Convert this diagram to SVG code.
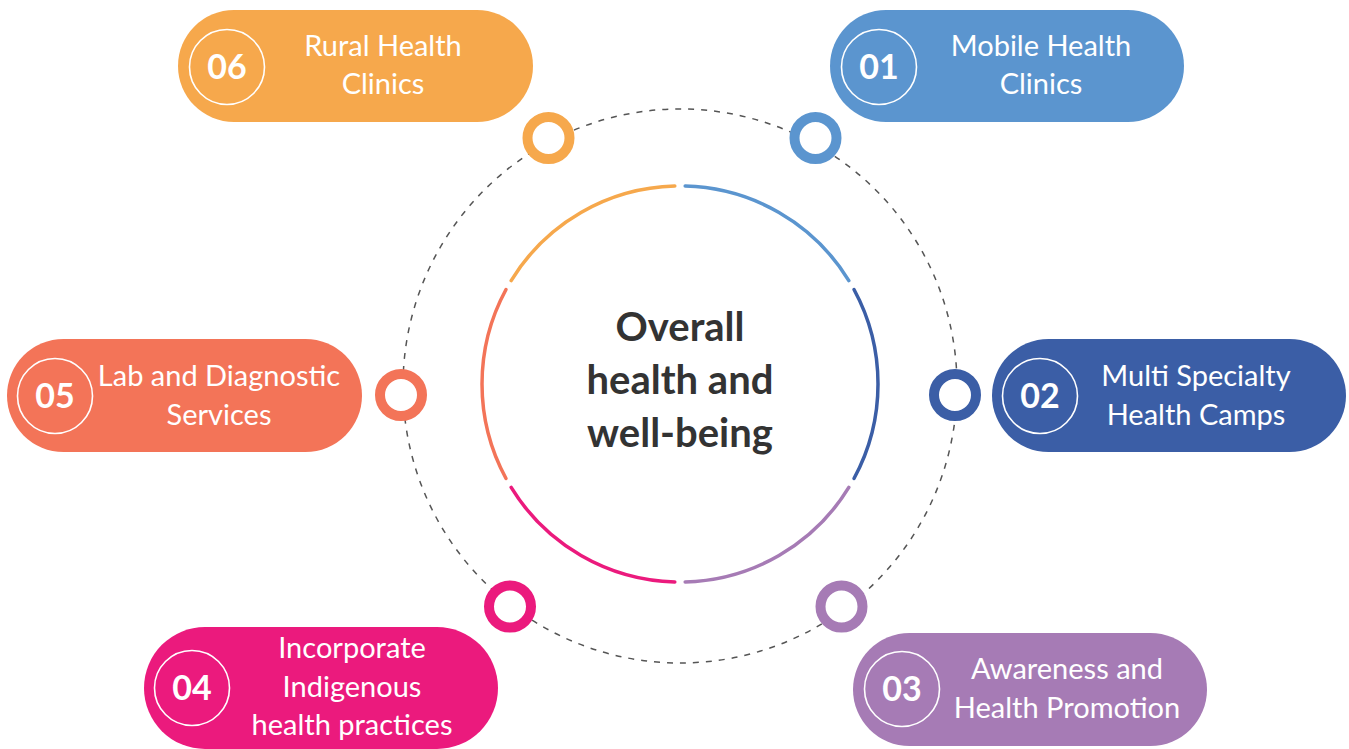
<svg xmlns="http://www.w3.org/2000/svg" width="1349" height="749" viewBox="0 0 1349 749">
<style>
.lbl{font-family:Lato,"Liberation Sans",sans-serif;font-size:29px;fill:#fff;text-anchor:middle}
.num{font-family:Lato,"Liberation Sans",sans-serif;font-size:34px;font-weight:bold;fill:#fff;text-anchor:middle}
.ncirc{fill:none;stroke:#fff;stroke-width:1.6}
.ring{fill:#fff;stroke-width:10}
.arc{fill:none;stroke-width:3.5;stroke-linecap:round}
.ctr{font-family:Lato,"Liberation Sans",sans-serif;font-size:40px;font-weight:bold;fill:#333;text-anchor:middle}
</style>
<rect width="1349" height="749" fill="#fff"/>
<g id="connectors">
<circle cx="680" cy="386" r="277" fill="none" stroke="#555" stroke-width="1.5" stroke-dasharray="6 7"/>
</g>
<g id="center">
<path class="arc" stroke="#5B95CF" d="M685.18 186.07 A198 198 0 0 1 848.82 280.54"/>
<path class="arc" stroke="#3B5EA6" d="M854.01 289.52 A198 198 0 0 1 854.01 478.48"/>
<path class="arc" stroke="#A67BB5" d="M848.82 487.46 A198 198 0 0 1 685.18 581.93"/>
<path class="arc" stroke="#EB1A7D" d="M674.82 581.93 A198 198 0 0 1 511.18 487.46"/>
<path class="arc" stroke="#F37458" d="M506.01 478.48 A198 198 0 0 1 506.01 289.52"/>
<path class="arc" stroke="#F6A84C" d="M511.18 280.54 A198 198 0 0 1 674.82 186.07"/>
<text class="ctr" x="680" y="341">Overall</text>
<text class="ctr" x="680" y="394">health and</text>
<text class="ctr" x="680" y="447">well-being</text>
</g>
<g id="node-01">
<circle class="ring" cx="815.5" cy="138" r="21" stroke="#5B95CF"/>
<rect x="830" y="10" width="354" height="112" rx="56" fill="#5B95CF"/>
<circle class="ncirc" cx="879" cy="67" r="37.5"/>
<text class="num" x="879" y="79">01</text>
<text class="lbl" x="1041" y="56">Mobile Health</text>
<text class="lbl" x="1041" y="94">Clinics</text>
</g>
<g id="node-02">
<circle class="ring" cx="955" cy="395" r="21" stroke="#3B5EA6"/>
<rect x="992" y="339" width="354" height="113" rx="56.5" fill="#3B5EA6"/>
<circle class="ncirc" cx="1040" cy="396" r="37.5"/>
<text class="num" x="1040" y="408">02</text>
<text class="lbl" x="1196" y="386">Multi Specialty</text>
<text class="lbl" x="1196" y="425">Health Camps</text>
</g>
<g id="node-03">
<circle class="ring" cx="841.5" cy="606.5" r="21" stroke="#A67BB5"/>
<rect x="853" y="633" width="354" height="113" rx="56.5" fill="#A67BB5"/>
<circle class="ncirc" cx="902" cy="689" r="37.5"/>
<text class="num" x="902" y="701">03</text>
<text class="lbl" x="1067" y="679">Awareness and</text>
<text class="lbl" x="1067" y="718">Health Promotion</text>
</g>
<g id="node-04">
<circle class="ring" cx="510" cy="606.5" r="21" stroke="#EB1A7D"/>
<rect x="144" y="627" width="354" height="122" rx="61" fill="#EB1A7D"/>
<circle class="ncirc" cx="192" cy="688" r="37.5"/>
<text class="num" x="192" y="700">04</text>
<text class="lbl" x="352" y="658">Incorporate</text>
<text class="lbl" x="352" y="697">Indigenous</text>
<text class="lbl" x="352" y="735">health practices</text>
</g>
<g id="node-05">
<circle class="ring" cx="401" cy="395" r="21" stroke="#F37458"/>
<rect x="7" y="339" width="355" height="113" rx="56.5" fill="#F37458"/>
<circle class="ncirc" cx="55" cy="396" r="37.5"/>
<text class="num" x="55" y="408">05</text>
<text class="lbl" x="219" y="386">Lab and Diagnostic</text>
<text class="lbl" x="219" y="425">Services</text>
</g>
<g id="node-06">
<circle class="ring" cx="548.5" cy="138" r="21" stroke="#F6A84C"/>
<rect x="178" y="10" width="355" height="112" rx="56" fill="#F6A84C"/>
<circle class="ncirc" cx="227" cy="67" r="37.5"/>
<text class="num" x="227" y="79">06</text>
<text class="lbl" x="383" y="56">Rural Health</text>
<text class="lbl" x="383" y="94">Clinics</text>
</g>
</svg>
